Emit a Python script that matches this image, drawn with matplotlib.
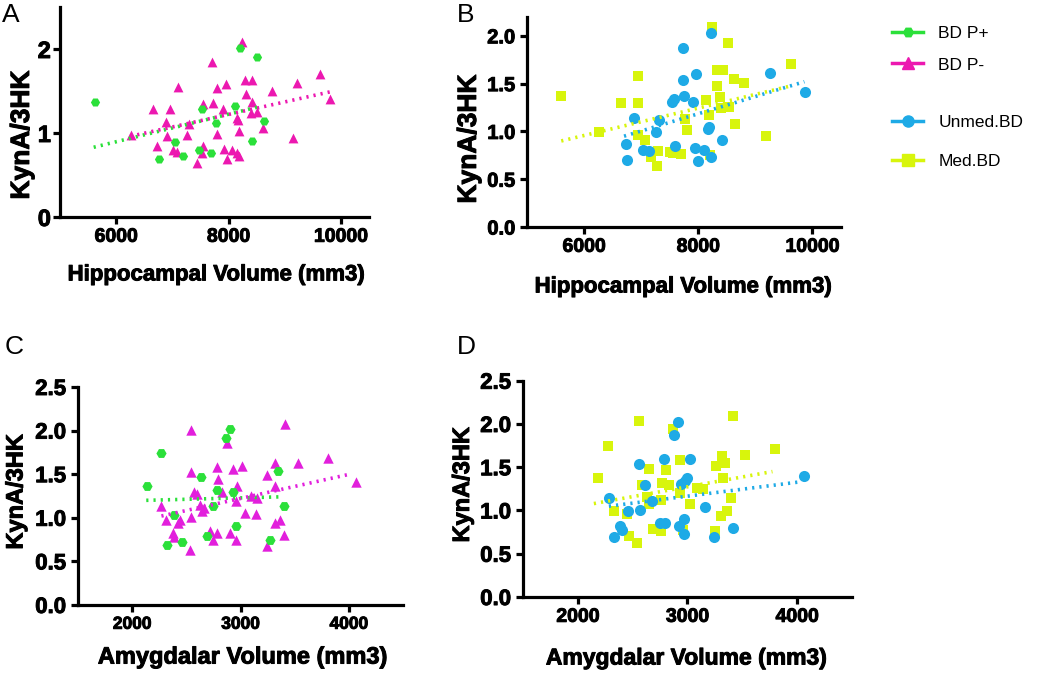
import matplotlib
matplotlib.use("Agg")
import matplotlib.pyplot as plt
from matplotlib.lines import Line2D
import matplotlib.patheffects as pe

plt.rcParams['font.family'] = ['Liberation Sans', 'DejaVu Sans']

# ---------------- Data ----------------
# Panel A: Hippocampal volume, BD P+ (green) / BD P- (magenta)
A_pplus_x = [5619, 8211, 8504, 7537, 8123, 7771, 8627, 7050, 6757, 7191, 7472, 7695, 8410]
A_pplus_y = [1.37, 2.01, 1.91, 1.29, 1.32, 1.12, 1.14, 0.89, 0.69, 0.73, 0.80, 0.76, 0.91]
A_pminus_x = [8234, 7713, 7108, 7794, 7947, 8293, 8411, 8311, 8411, 8780, 9220, 9630, 9806,
              7730, 7554, 6657, 6962, 7900, 8158, 8170, 8399, 8516, 8616, 8182, 6880, 7302,
              6258, 6903, 7255, 7794, 6727, 7009, 7091, 7548, 7525, 7917, 8059, 8147, 8182,
              7970, 7431, 9144]
A_pminus_y = [2.08, 1.85, 1.55, 1.53, 1.58, 1.63, 1.63, 1.46, 1.37, 1.50, 1.60, 1.70, 1.40,
              1.36, 1.35, 1.29, 1.29, 1.29, 1.18, 1.15, 1.24, 1.25, 1.06, 1.02, 1.13, 1.11,
              0.98, 0.96, 0.98, 0.99, 0.85, 0.80, 0.77, 0.85, 0.76, 0.81, 0.80, 0.76, 0.73,
              0.69, 0.64, 0.94]
A_fit_pplus_x = [5600, 8590]
A_fit_pplus_y = [0.83, 1.32]
A_fit_pminus_x = [6250, 9810]
A_fit_pminus_y = [0.96, 1.49]

# Panel B: Hippocampal volume, Unmed.BD (blue) / Med.BD (yellow)
B_unmed_x = [8216, 7740, 7956, 7734, 7752, 7577, 7536, 7915, 9264, 9871, 6876, 7314, 7255,
             8193, 8175, 8423, 6730, 7034, 7139, 7589, 7950, 8096, 6748, 7997, 8216]
B_unmed_y = [2.03, 1.87, 1.60, 1.54, 1.37, 1.34, 1.31, 1.31, 1.61, 1.41, 1.14, 1.12, 0.99,
             1.05, 1.02, 0.91, 0.87, 0.81, 0.79, 0.85, 0.83, 0.81, 0.70, 0.69, 0.73]
B_med_x = [5591, 8248, 8522, 9620, 6952, 8324, 8438, 8324, 8628, 8803, 8383, 8131, 6642,
           6952, 8540, 8394, 8190, 7763, 8640, 7810, 6257, 6952, 7063, 9182, 7296, 7507,
           7705, 7560, 8207, 7180, 7273]
B_med_y = [1.37, 2.09, 1.93, 1.71, 1.58, 1.64, 1.64, 1.47, 1.55, 1.51, 1.36, 1.33, 1.30,
           1.30, 1.26, 1.24, 1.17, 1.13, 1.08, 1.01, 0.99, 0.96, 0.91, 0.95, 0.80, 0.78,
           0.76, 0.77, 0.75, 0.73, 0.64]
B_fit_unmed_x = [6700, 9860]
B_fit_unmed_y = [0.95, 1.52]
B_fit_med_x = [5600, 9650]
B_fit_med_y = [0.90, 1.48]

# Panel C: Amygdalar volume, BD P+ / BD P-
C_pplus_x = [2136, 2263, 2903, 2866, 2631, 2779, 2933, 2748, 3345, 3406, 2390, 2321, 2457,
             2692, 2958, 3274]
C_pplus_y = [1.37, 1.74, 2.02, 1.92, 1.47, 1.32, 1.29, 1.13, 1.54, 1.14, 1.03, 0.69, 0.72,
             0.79, 0.90, 0.75]
C_pminus_x = [2541, 3413, 2872, 3805, 3530, 3320, 3011, 2779, 2933, 2541, 2794, 3243, 4062,
              3320, 2971, 2572, 2594, 2826, 3097, 3150, 2958, 2269, 2624, 2649, 2661, 3042,
              3144, 3366, 2309, 2439, 2423, 2547, 3320, 2374, 2386, 2717, 2779, 2748, 2902,
              2958, 3406, 3243, 2532]
C_pminus_y = [2.01, 2.08, 1.86, 1.69, 1.63, 1.63, 1.59, 1.58, 1.56, 1.53, 1.45, 1.49, 1.41,
              1.36, 1.36, 1.29, 1.27, 1.29, 1.25, 1.23, 1.19, 1.14, 1.15, 1.08, 1.11, 1.06,
              1.04, 0.98, 0.97, 0.97, 0.94, 1.01, 0.94, 0.82, 0.78, 0.85, 0.83, 0.75, 0.82,
              0.74, 0.80, 0.68, 0.63]
C_fit_pplus_x = [2130, 3370]
C_fit_pplus_y = [1.20, 1.24]
C_fit_pminus_x = [2270, 4010]
C_fit_pminus_y = [1.02, 1.50]

# Panel D: Amygdalar volume, Unmed.BD / Med.BD
D_unmed_x = [2912, 2881, 2790, 3021, 2562, 2997, 2976, 2942, 2608, 4061, 2283, 2672, 3164,
             2568, 2459, 2970, 2389, 2404, 2748, 2799, 2921, 2967, 3413, 3246, 2334]
D_unmed_y = [2.02, 1.87, 1.59, 1.60, 1.54, 1.37, 1.34, 1.31, 1.30, 1.40, 1.14, 1.11, 1.04,
             1.01, 0.99, 0.90, 0.82, 0.78, 0.85, 0.85, 0.82, 0.73, 0.80, 0.69, 0.69]
D_med_x = [2556, 3413, 2872, 3802, 2277, 3523, 3316, 2936, 2647, 2805, 3264, 3346, 2185,
           3328, 2769, 2830, 2581, 3085, 3137, 2933, 2632, 2754, 3021, 2647, 3401, 2328,
           2444, 3359, 3307, 2684, 2760, 2955, 3255, 2471, 2538]
D_med_y = [2.03, 2.09, 1.94, 1.71, 1.75, 1.64, 1.63, 1.58, 1.48, 1.47, 1.51, 1.55, 1.37,
           1.37, 1.32, 1.30, 1.30, 1.26, 1.25, 1.20, 1.16, 1.12, 1.08, 1.07, 1.14, 0.99,
           0.96, 0.99, 0.94, 0.79, 0.76, 0.78, 0.76, 0.71, 0.63]
D_fit_unmed_x = [2283, 4020]
D_fit_unmed_y = [1.05, 1.33]
D_fit_med_x = [2146, 3775]
D_fit_med_y = [1.08, 1.45]

# Labels
ylabel = "KynA/3HK"
xlabel_hip = "Hippocampal Volume (mm3)"
xlabel_amy = "Amygdalar Volume (mm3)"
legend_labels = ["BD P+", "BD P-", "Unmed.BD", "Med.BD"]
panel_letters = ["A", "B", "C", "D"]

# ---------------- Style ----------------
GREEN = '#2be03a'
PINK = '#ec18b0'
PURPLE = '#e21fdc'
BLUE = '#1eaae6'
YELLOW = '#d8f50c'

THICK = [pe.withStroke(linewidth=0.7, foreground='black')]

fig = plt.figure(figsize=(10.5, 6.73), dpi=100)

axA = fig.add_axes([0.0571, 0.6776, 0.2943, 0.3120])
axB = fig.add_axes([0.5019, 0.6627, 0.2990, 0.3125])
axC = fig.add_axes([0.0743, 0.1011, 0.3095, 0.3239])
axD = fig.add_axes([0.4981, 0.1129, 0.3133, 0.3214])


def style(ax, xlim, ylim, xticks, yticks, yfmt, xlabel, xfs, yfs, tfs_x, tfs_y,
          xl_pos, yl_pos, ypad=3.5):
    ax.set_xlim(*xlim)
    ax.set_ylim(*ylim)
    ax.set_xticks(xticks)
    ax.set_yticks(yticks)
    ax.set_yticklabels([yfmt.format(v) for v in yticks])
    for s in ['top', 'right']:
        ax.spines[s].set_visible(False)
    for s in ['left', 'bottom']:
        ax.spines[s].set_linewidth(2.3)
    ax.tick_params(width=2.3, length=5, direction='out')
    ax.tick_params(axis='y', pad=ypad)
    for lab in ax.get_xticklabels():
        lab.set_fontweight('bold'); lab.set_fontsize(tfs_x); lab.set_path_effects(THICK)
    for lab in ax.get_yticklabels():
        lab.set_fontweight('bold'); lab.set_fontsize(tfs_y); lab.set_path_effects(THICK)
    ax.set_xlabel(xlabel, fontsize=xfs, fontweight='bold', path_effects=THICK)
    ax.set_ylabel(ylabel, fontsize=yfs, fontweight='bold', path_effects=THICK)
    ax.xaxis.label.set_va('center')
    ax.yaxis.label.set_va('center')
    ax.xaxis.set_label_coords(*xl_pos)
    ax.yaxis.set_label_coords(*yl_pos)


dot = (0, (0.6, 1.4))

# Panel A
axA.scatter(A_pminus_x, A_pminus_y, marker='^', s=50, color=PINK, linewidths=0, zorder=3)
axA.scatter(A_pplus_x, A_pplus_y, marker='H', s=44, color=GREEN, linewidths=0, zorder=3)
axA.plot(A_fit_pplus_x, A_fit_pplus_y, linestyle=dot, color=GREEN, lw=2.6, zorder=4)
axA.plot(A_fit_pminus_x, A_fit_pminus_y, linestyle=dot, color=PINK, lw=2.6, zorder=4)
style(axA, (5000, 10500), (0, 2.5), [6000, 8000, 10000], [0, 1, 2], "{:.0f}",
      xlabel_hip, 16, 19, 14, 17, (0.505, -0.276), (-0.123, 0.39), ypad=1.5)

# Panel B
axB.scatter(B_med_x, B_med_y, marker='s', s=60, color=YELLOW, linewidths=0, zorder=3)
axB.scatter(B_unmed_x, B_unmed_y, marker='o', s=64, color=BLUE, linewidths=0, zorder=3)
axB.plot(B_fit_med_x, B_fit_med_y, linestyle=dot, color=YELLOW, lw=2.6, zorder=4)
axB.plot(B_fit_unmed_x, B_fit_unmed_y, linestyle=dot, color=BLUE, lw=2.6, zorder=4)
style(axB, (5000, 10500), (0, 2.2), [6000, 8000, 10000], [0, 0.5, 1.0, 1.5, 2.0], "{:.1f}",
      xlabel_hip, 16, 19, 14, 14.5, (0.497, -0.285), (-0.185, 0.418))

# Panel C
axC.scatter(C_pminus_x, C_pminus_y, marker='^', s=56, color=PURPLE, linewidths=0, zorder=3)
axC.scatter(C_pplus_x, C_pplus_y, marker='H', s=54, color=GREEN, linewidths=0, zorder=3)
axC.plot(C_fit_pplus_x, C_fit_pplus_y, linestyle=dot, color=GREEN, lw=2.6, zorder=4)
axC.plot(C_fit_pminus_x, C_fit_pminus_y, linestyle=dot, color=PURPLE, lw=2.6, zorder=4)
style(axC, (1500, 4500), (0, 2.5), [2000, 3000, 4000], [0, 0.5, 1.0, 1.5, 2.0, 2.5], "{:.1f}",
      xlabel_amy, 17, 17, 12.5, 16, (0.508, -0.239), (-0.191, 0.52))

# Panel D
axD.scatter(D_med_x, D_med_y, marker='s', s=60, color=YELLOW, linewidths=0, zorder=3)
axD.scatter(D_unmed_x, D_unmed_y, marker='o', s=64, color=BLUE, linewidths=0, zorder=3)
axD.plot(D_fit_med_x, D_fit_med_y, linestyle=dot, color=YELLOW, lw=2.6, zorder=4)
axD.plot(D_fit_unmed_x, D_fit_unmed_y, linestyle=dot, color=BLUE, lw=2.6, zorder=4)
style(axD, (1500, 4500), (0, 2.5), [2000, 3000, 4000], [0, 0.5, 1.0, 1.5, 2.0, 2.5], "{:.1f}",
      xlabel_amy, 16.5, 17, 14, 16, (0.495, -0.282), (-0.184, 0.52))

# Panel letters
for (x, y), letter in zip([(0.002, 0.995), (0.435, 0.995), (0.004, 0.502), (0.435, 0.502)],
                          panel_letters):
    fig.text(x, y, letter, fontsize=19, ha='left', va='top')

# Legends
h1 = [Line2D([], [], color=GREEN, marker='H', markersize=7, lw=2.5),
      Line2D([], [], color=PINK, marker='^', markersize=8, lw=2.5)]
h2 = [Line2D([], [], color=BLUE, marker='o', markersize=8, lw=2.5),
      Line2D([], [], color=YELLOW, marker='s', markersize=8, lw=2.5)]
leg1 = fig.legend(h1, legend_labels[:2], loc='upper left', bbox_to_anchor=(0.835, 0.985),
                  frameon=False, fontsize=12.5, handlelength=1.75, handletextpad=0.9,
                  labelspacing=0.95)
leg2 = fig.legend(h2, legend_labels[2:], loc='upper left', bbox_to_anchor=(0.835, 0.853),
                  frameon=False, fontsize=12.5, handlelength=1.75, handletextpad=0.9,
                  labelspacing=1.4)

fig.savefig("out.png", dpi=100)
